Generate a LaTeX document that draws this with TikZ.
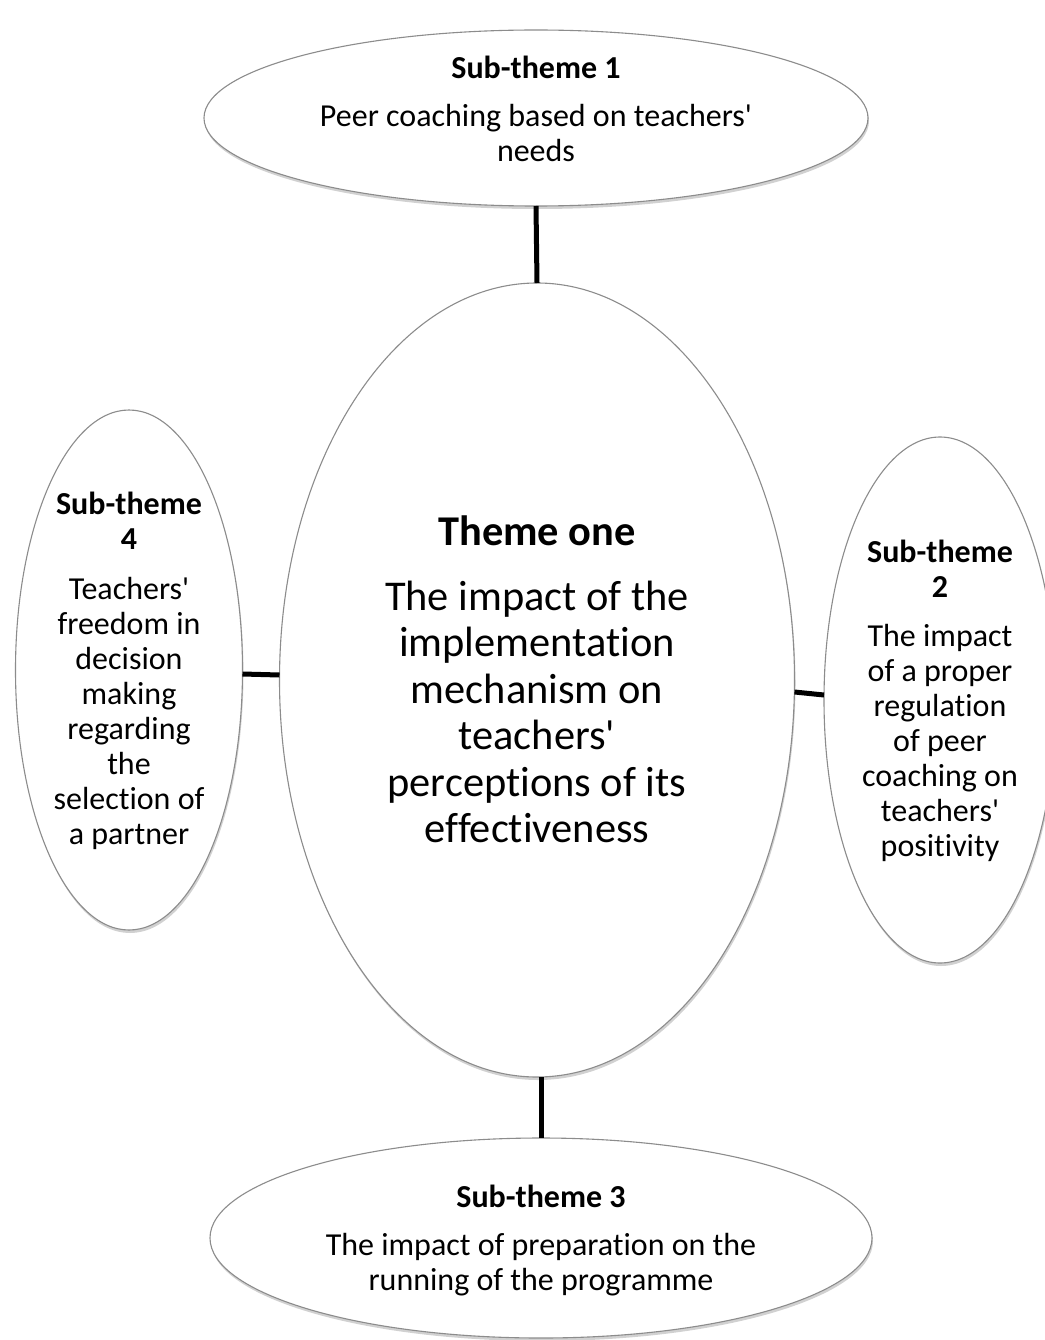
\documentclass[tikz,border=0pt]{standalone}
\usepackage{fontspec}
\setmainfont{Carlito}[Ligatures={NoCommon,TeXOff}]
\usetikzlibrary{shapes.geometric,shadows}
\begin{document}
\begin{tikzpicture}[x=1pt,y=-1pt,
  bubble/.style={ellipse,draw=black!45,line width=1.1pt,fill=white,inner sep=0pt,outer sep=0pt,
    drop shadow={shadow xshift=1pt,shadow yshift=-3pt,opacity=0.18,fill=black}},
  link/.style={line width=5pt,black},
  smalltxt/.style={align=center,font=\fontsize{32}{35}\selectfont,inner sep=0pt},
  bigtxt/.style={align=center,font=\fontsize{42.4}{46.4}\selectfont,inner sep=0pt}]
\useasboundingbox (0,0) rectangle (1044,1340);
\fill[white] (0,0) rectangle (1044,1340);
% ellipses
\node[bubble,minimum width=664pt,minimum height=176pt] (s1) at (536,118) {};
\node[bubble,minimum width=515pt,minimum height=794pt] (c) at (537,680) {};
\node[bubble,minimum width=227pt,minimum height=520pt] (s4) at (129,670) {};
\node[bubble,minimum width=232pt,minimum height=526pt] (s2) at (940,700) {};
\node[bubble,minimum width=662pt,minimum height=200pt] (s3) at (541,1238) {};
% connectors
\draw[link] (s1.south) -- (c.north);
\draw[link] (s3.north) -- (s3.north |- c.south);
\draw[link] (s4.east |- 0,674) -- (c.west |- 0,675);
\draw[link] (c.east |- 0,692) -- (s2.west |- 0,695);
% texts
\node[smalltxt] (t1) at (536,109) {\textbf{Sub-theme 1}\\[13pt]Peer coaching based on teachers'\\needs};
\node[bigtxt] (tc) at (537,679) {\textbf{Theme one}\\[19pt]The impact of the\\implementation\\mechanism on\\teachers'\\perceptions of its\\effectiveness};
\node[smalltxt] (t4) at (129,671) {\textbf{Sub-theme}\\\textbf{4}\\[15pt]Teachers'\\freedom in\\decision\\making\\regarding\\the\\selection of\\a partner};
\node[smalltxt] (t2) at (940,701) {\textbf{Sub-theme}\\\textbf{2}\\[14pt]The impact\\of a proper\\regulation\\of peer\\coaching on\\teachers'\\positivity};
\node[smalltxt] (t3) at (541,1241) {\textbf{Sub-theme 3}\\[13pt]The impact of preparation on the\\running of the programme};
\end{tikzpicture}
\end{document}
